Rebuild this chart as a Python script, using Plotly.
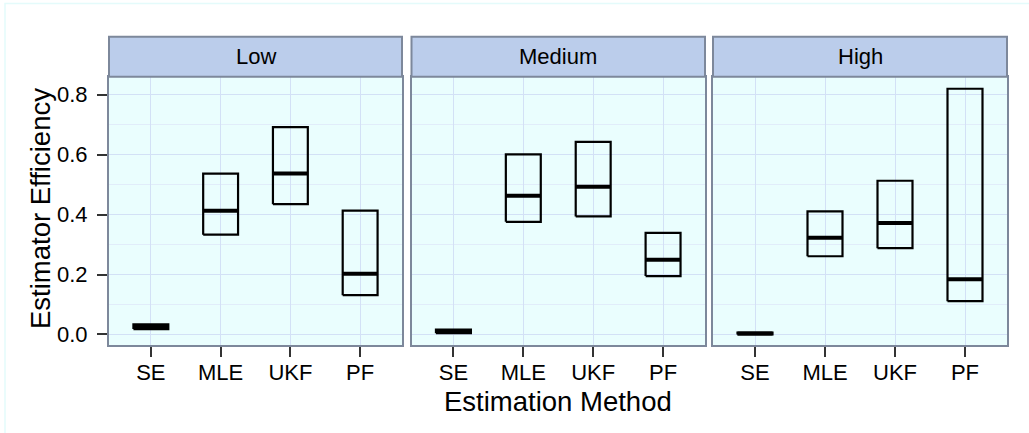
import plotly.graph_objects as go

W, H = 1029, 433

methods = ["SE", "MLE", "UKF", "PF"]
levels = ["Low", "Medium", "High"]

low_lower = [0.018, 0.333, 0.435, 0.131]
low_middle = [0.026, 0.413, 0.537, 0.203]
low_upper = [0.034, 0.537, 0.692, 0.413]

medium_lower = [0.004, 0.376, 0.394, 0.195]
medium_middle = [0.010, 0.463, 0.493, 0.249]
medium_upper = [0.016, 0.601, 0.643, 0.339]

high_lower = [0.000, 0.261, 0.288, 0.111]
high_middle = [0.003, 0.323, 0.372, 0.184]
high_upper = [0.006, 0.411, 0.513, 0.820]

y_ticks = [0.0, 0.2, 0.4, 0.6, 0.8]
y_ticklabels = ["0.0", "0.2", "0.4", "0.6", "0.8"]

panel_data = [
    (low_lower, low_middle, low_upper),
    (medium_lower, medium_middle, medium_upper),
    (high_lower, high_middle, high_upper),
]

HALF = 0.25
FONT = "Liberation Sans, Arial, sans-serif"
BORDER = "#7D889B"
STRIP = "#BBCDEB"
PANEL_BG = "#EAFEFE"
GRID = "#D3E1F6"
MINOR = "#E1EDFA"
TICK_SIZE = 22
TITLE_SIZE = 27.5

px_domains = [(109, 402), (411.5, 705), (713, 1007)]
y_top_px, y_bot_px = 77, 347
strip_top_px = 37

fig = go.Figure()

for k, (lo, mid, hi) in enumerate(panel_data):
    xa = "x" if k == 0 else f"x{k+1}"
    ya = "y" if k == 0 else f"y{k+1}"
    bx, by = [], []
    mx, my = [], []
    for i in range(len(methods)):
        c = i + 1
        bx += [c - HALF, c + HALF, c + HALF, c - HALF, c - HALF, None]
        by += [lo[i], lo[i], hi[i], hi[i], lo[i], None]
        mx += [c - HALF, c + HALF, None]
        my += [mid[i], mid[i], None]
    fig.add_trace(go.Scatter(x=bx, y=by, mode="lines", xaxis=xa, yaxis=ya,
                             line=dict(color="black", width=2.2), showlegend=False,
                             hoverinfo="skip"))
    fig.add_trace(go.Scatter(x=mx, y=my, mode="lines", xaxis=xa, yaxis=ya,
                             line=dict(color="black", width=4), showlegend=False,
                             hoverinfo="skip"))

layout = dict(
    width=W, height=H,
    margin=dict(l=0, r=0, t=0, b=0),
    paper_bgcolor="white",
    plot_bgcolor=PANEL_BG,
    font=dict(family=FONT, color="black", size=TICK_SIZE),
    showlegend=False,
)

ydom = [(H - y_bot_px) / H, (H - y_top_px) / H]
shapes = []
annotations = []
for k, (a, b) in enumerate(px_domains):
    xkey = "xaxis" if k == 0 else f"xaxis{k+1}"
    ykey = "yaxis" if k == 0 else f"yaxis{k+1}"
    anchor_y = "y" if k == 0 else f"y{k+1}"
    anchor_x = "x" if k == 0 else f"x{k+1}"
    layout[xkey] = dict(
        domain=[a / W, b / W], anchor=anchor_y,
        range=[0.4, 4.6], tickvals=[1, 2, 3, 4], ticktext=methods,
        showgrid=True, gridcolor=GRID, gridwidth=1, zeroline=False,
        showline=True, linecolor=BORDER, linewidth=2, mirror=True,
        ticks="outside", ticklen=10, tickwidth=1.5, tickcolor="#333333",
        tickfont=dict(size=TICK_SIZE, color="black", family=FONT),
        ticklabelstandoff=-4,
    )
    layout[ykey] = dict(
        domain=ydom, anchor=anchor_x,
        range=[-0.0365, 0.8605], tickvals=y_ticks, ticktext=y_ticklabels,
        showgrid=True, gridcolor=GRID, gridwidth=1, zeroline=False,
        minor=dict(dtick=0.1, tick0=0.1, showgrid=True, gridcolor=MINOR, gridwidth=1),
        showline=True, linecolor=BORDER, linewidth=2, mirror=True,
        ticks="outside" if k == 0 else "", ticklen=10, tickwidth=1.5, tickcolor="#333333",
        showticklabels=(k == 0),
        tickfont=dict(size=TICK_SIZE, color="black", family=FONT),
        ticklabelstandoff=5,
    )
    shapes.append(dict(type="rect", xref="paper", yref="paper",
                       x0=a / W, x1=b / W, y0=ydom[1], y1=(H - strip_top_px) / H,
                       fillcolor=STRIP, line=dict(color=BORDER, width=2), layer="above"))
    annotations.append(dict(text=levels[k], xref="paper", yref="paper",
                            x=(a + b) / 2 / W, y=(H - 57) / H, showarrow=False,
                            xanchor="center", yanchor="middle",
                            font=dict(size=TICK_SIZE, color="black", family=FONT)))

shapes.append(dict(type="rect", xref="paper", yref="paper",
                   x0=5 / W, x1=1.02, y0=-0.02, y1=(H - 3.5) / H,
                   fillcolor="rgba(0,0,0,0)", line=dict(color="#E4FBFB", width=1.5),
                   layer="below"))

annotations.append(dict(text="Estimation Method", xref="paper", yref="paper",
                        x=558 / W, y=(H - 403) / H, showarrow=False,
                        xanchor="center", yanchor="middle",
                        font=dict(size=TITLE_SIZE, color="black", family=FONT)))
annotations.append(dict(text="Estimator Efficiency", xref="paper", yref="paper",
                        x=40 / W, y=(H - 210) / H, showarrow=False, textangle=-90,
                        xanchor="center", yanchor="middle",
                        font=dict(size=TITLE_SIZE, color="black", family=FONT)))

layout["shapes"] = shapes
layout["annotations"] = annotations
fig.update_layout(**layout)

fig.write_html("out.html", config={"displayModeBar": False},
               post_script="document.body.style.margin='0px';")
